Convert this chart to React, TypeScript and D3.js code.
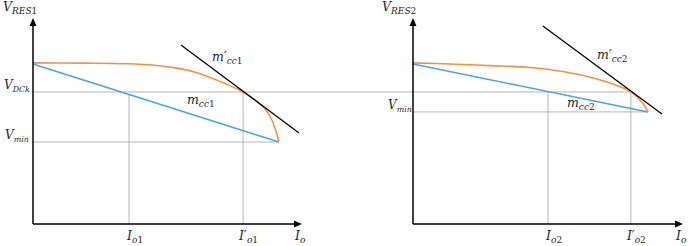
import React from "react";
import * as d3 from "d3";

// ---- Data (abstract units: x = output current, y = resonant voltage) ----
const leftOrangeX = [0, 2.0, 3.5, 4.5, 5.3, 6.0, 6.8, 7.81, 8.36, 8.66, 8.88, 9.03, 9.14];
const leftOrangeY = [7.82, 7.81, 7.78, 7.71, 7.58, 7.38, 7.0, 6.41, 5.92, 5.53, 5.05, 4.51, 3.98];
const leftBlueX = [0, 9.14];
const leftBlueY = [7.77, 3.98];
const leftTangentX = [5.5, 9.89];
const leftTangentY = [8.69, 4.42];
const leftIo = 3.57;
const leftIoPrime = 7.81;
const leftEnd = 9.14;

const rightOrangeX = [0, 1.37, 2.85, 4.33, 5.56, 6.81, 7.56, 8.07, 8.41, 8.56, 8.7];
const rightOrangeY = [7.82, 7.77, 7.69, 7.6, 7.4, 7.04, 6.72, 6.41, 6.02, 5.78, 5.44];
const rightBlueX = [0, 8.7];
const rightBlueY = [7.77, 5.44];
const rightTangentX = [4.81, 9.22];
const rightTangentY = [9.61, 5.34];
const rightIo = 5.0;
const rightIoPrime = 8.07;
const rightEnd = 8.7;

const vDCk = 6.41;
const vMinLeft = 3.98;
const vMinRight = 5.44;

const panelLabels = ["1", "2"];

const W = 688;
const H = 246;
const ORANGE = "#F5903F";
const BLUE = "#4BA3E0";
const GRAY = "#B4B4B4";
const FONT = "DejaVu Serif";

const yScale = d3.scaleLinear().domain([0, 10]).range([224, 18]);
const xLeft = d3.scaleLinear().domain([0, 10]).range([33, 302]);
const xRight = d3.scaleLinear().domain([0, 10]).range([413, 683]);

function zip(xs: number[], ys: number[]): [number, number][] {
  return xs.map((x, i) => [x, ys[i]]);
}

function Sym({ x, y, main, prime, sub, size = 12.5, subScale = 0.72 }: { x: number; y: number; main: string; prime?: boolean; sub: string; size?: number; subScale?: number }) {
  const parts = sub.match(/[0-9]+|[^0-9]+/g) || [];
  return (
    <text x={x} y={y} fontFamily={FONT} fontSize={size} fill="#262626">
      <tspan fontStyle="italic">{main}</tspan>
      {prime ? <tspan fontStyle="italic" fontSize={size}>′</tspan> : null}
      {parts.map((p, i) => (
        <tspan
          key={i}
          fontStyle={/[0-9]/.test(p) ? "normal" : "italic"}
          fontSize={size * subScale}
          dy={i === 0 ? 3 : 0}
        >
          {p}
        </tspan>
      ))}
    </text>
  );
}

function Panel({
  x,
  idx,
  orange,
  blue,
  tangent,
  io,
  ioPrime,
  end,
  vmin,
  showDCk,
  labelX,
}: {
  x: d3.ScaleLinear<number, number>;
  idx: string;
  orange: [number, number][];
  blue: [number, number][];
  tangent: [number, number][];
  io: number;
  ioPrime: number;
  end: number;
  vmin: number;
  showDCk: boolean;
  labelX: { vres: number; vmin: number; vdck: number; mp: [number, number]; m: [number, number] };
}) {
  const curve = d3
    .line<[number, number]>()
    .x((d) => x(d[0]))
    .y((d) => yScale(d[1]))
    .curve(d3.curveCatmullRom.alpha(0.5));
  const straight = d3
    .line<[number, number]>()
    .x((d) => x(d[0]))
    .y((d) => yScale(d[1]));
  const x0 = x(0);
  const y0 = yScale(0);
  const xEnd = x(10);
  const yTop = yScale(10);
  const bluePt = (v: number) => {
    const [a, b] = blue;
    return a[1] + ((b[1] - a[1]) * (v - a[0])) / (b[0] - a[0]);
  };
  return (
    <g>
      <line x1={x0} x2={x(end)} y1={yScale(vmin)} y2={yScale(vmin)} stroke={GRAY} strokeWidth={1} />
      <line x1={x(io)} x2={x(io)} y1={yScale(bluePt(io))} y2={y0} stroke={GRAY} strokeWidth={1} />
      <line x1={x(ioPrime)} x2={x(ioPrime)} y1={yScale(vDCk)} y2={y0} stroke={GRAY} strokeWidth={1} />
      <path d={straight(blue) || ""} fill="none" stroke={BLUE} strokeWidth={1.5} />
      <path d={curve(orange) || ""} fill="none" stroke={ORANGE} strokeWidth={1.6} />
      <path d={straight(tangent) || ""} fill="none" stroke="#000" strokeWidth={1.3} />
      <line x1={x0} x2={x0} y1={y0} y2={yTop + 6} stroke="#000" strokeWidth={1.5} />
      <path d={`M${x0},${yTop} L${x0 - 3.5},${yTop + 8} L${x0 + 3.5},${yTop + 8} Z`} fill="#000" />
      <line x1={x0} x2={xEnd - 6} y1={y0} y2={y0} stroke="#000" strokeWidth={1.5} />
      <path d={`M${xEnd},${y0} L${xEnd - 8},${y0 - 3.5} L${xEnd - 8},${y0 + 3.5} Z`} fill="#000" />
      <Sym x={labelX.vres} y={11} main="V" sub={"RES" + idx} />
      <Sym x={labelX.vmin} y={yScale(vmin) - 3} main="V" sub="min" size={12} subScale={0.66} />
      {showDCk ? <Sym x={labelX.vdck} y={yScale(vDCk) - 3} main="V" sub="DCk" size={12} subScale={0.66} /> : null}
      <Sym x={labelX.mp[0]} y={labelX.mp[1]} main="m" prime sub={"cc" + idx} />
      <Sym x={labelX.m[0]} y={labelX.m[1]} main="m" sub={"cc" + idx} />
      <Sym x={x(io) - 2} y={240} main="I" sub={"o" + idx} />
      <Sym x={x(ioPrime) - 4} y={240} main="I" prime sub={"o" + idx} />
      <Sym x={xEnd - 7} y={240} main="I" sub="o" />
    </g>
  );
}

export default function App() {
  return (
    <svg width={W} height={H} style={{ position: "absolute", left: 0, top: 0, background: "#fff" }}>
      <rect width={W} height={H} fill="#fff" />
      <line
        x1={xLeft(0)}
        x2={xRight(rightIoPrime)}
        y1={yScale(vDCk)}
        y2={yScale(vDCk)}
        stroke={GRAY}
        strokeWidth={1}
      />
      <Panel
        x={xLeft}
        idx={panelLabels[0]}
        orange={zip(leftOrangeX, leftOrangeY)}
        blue={zip(leftBlueX, leftBlueY)}
        tangent={zip(leftTangentX, leftTangentY)}
        io={leftIo}
        ioPrime={leftIoPrime}
        end={leftEnd}
        vmin={vMinLeft}
        showDCk={true}
        labelX={{ vres: 3, vmin: 5, vdck: 4, mp: [212, 61], m: [187, 104] }}
      />
      <Panel
        x={xRight}
        idx={panelLabels[1]}
        orange={zip(rightOrangeX, rightOrangeY)}
        blue={zip(rightBlueX, rightBlueY)}
        tangent={zip(rightTangentX, rightTangentY)}
        io={rightIo}
        ioPrime={rightIoPrime}
        end={rightEnd}
        vmin={vMinRight}
        showDCk={false}
        labelX={{ vres: 382, vmin: 388, vdck: 0, mp: [597, 59], m: [567, 107] }}
      />
    </svg>
  );
}
